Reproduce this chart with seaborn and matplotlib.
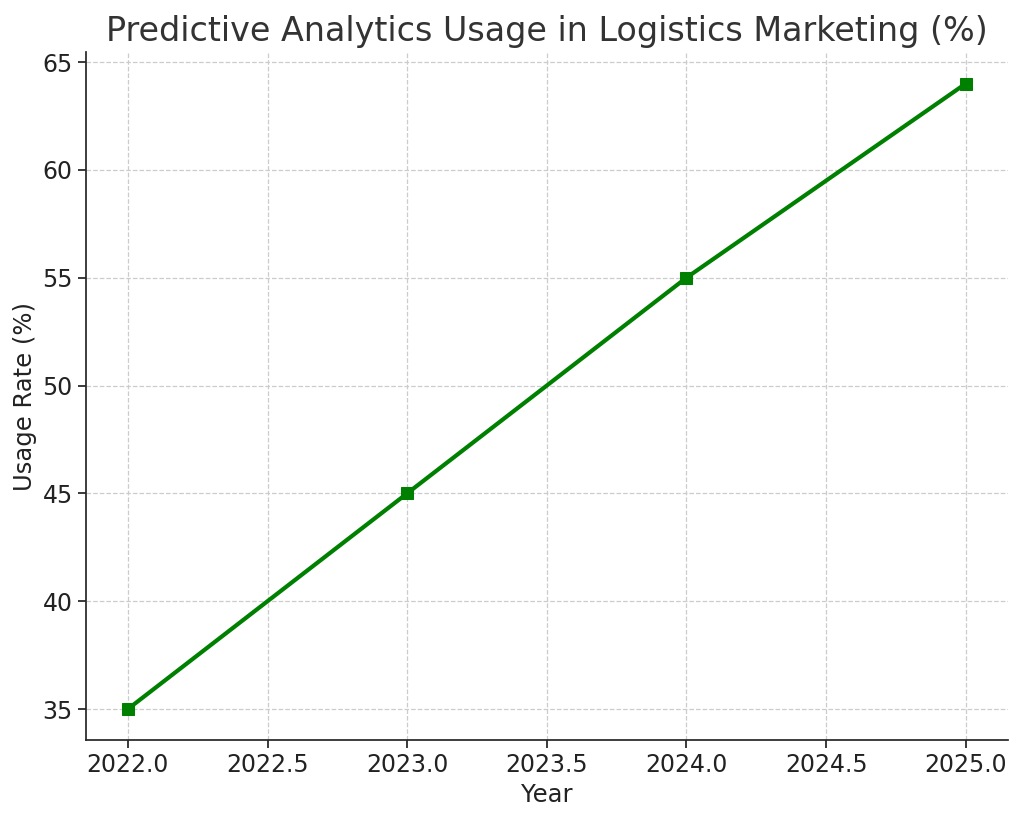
import matplotlib
matplotlib.use("Agg")
import matplotlib.pyplot as plt
import seaborn as sns
import pandas as pd

years = [2022, 2023, 2024, 2025]
usage = [35, 45, 55, 64]

df = pd.DataFrame({"Year": years, "Usage": usage})

sns.set_theme(style="ticks")
plt.rcParams['font.family'] = ['DejaVu Sans']

fig, ax = plt.subplots(figsize=(10.24, 8.18), dpi=100)
sns.lineplot(data=df, x="Year", y="Usage", color="green", marker="s",
             markersize=8, markeredgecolor="green", linewidth=3, ax=ax)

ax.set_title("Predictive Analytics Usage in Logistics Marketing (%)", fontsize=24,
             color="#333333", pad=8)
ax.set_xlabel("Year", fontsize=17.5, color="#222222")
ax.set_ylabel("Usage Rate (%)", fontsize=17.5, color="#222222")
ax.tick_params(labelsize=17, colors="#222222")
ax.grid(True, linestyle="--", color="#cccccc", linewidth=0.9)
xt = [2022.0, 2022.5, 2023.0, 2023.5, 2024.0, 2024.5, 2025.0]
ax.set_xticks(xt)
ax.set_xticklabels([f"{v:.1f}" for v in xt])
sns.despine(ax=ax)

plt.subplots_adjust(left=0.084, right=0.984, top=0.936, bottom=0.095)
plt.savefig("out.png", dpi=100)
